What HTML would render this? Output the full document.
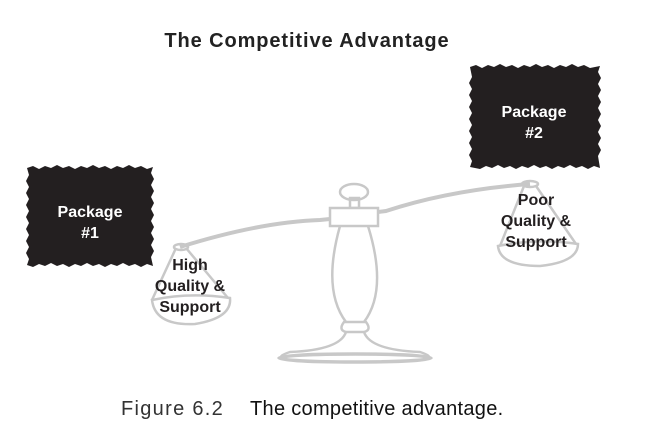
<!DOCTYPE html>
<html><head><meta charset="utf-8"><style>
html,body{margin:0;padding:0;background:#fff;width:647px;height:443px;overflow:hidden}
svg{display:block}
</style></head><body>
<svg width="647" height="443" viewBox="0 0 647 443" xmlns="http://www.w3.org/2000/svg" font-family="Liberation Sans, Arial, sans-serif">
<text x="307" y="47" text-anchor="middle" font-size="20" font-weight="bold" fill="#222" letter-spacing="0.9">The Competitive Advantage</text>
<path d="M27,168 L33,166 L39,169 L45,166 L51,168 L57,165 L63,168 L69,166 L75,169 L81,166 L87,168 L93,165 L99,168 L105,166 L111,169 L117,166 L123,168 L129,165 L135,168 L141,166 L147,169 L153,167
L151,173 L154,179 L151,185 L154,191 L151,197 L154,203 L151,209 L154,215 L151,221 L154,227 L151,233 L154,239 L151,245 L154,251 L151,257 L153,266
L147,264 L141,267 L135,264 L129,266 L123,263 L117,266 L111,264 L105,267 L99,264 L93,266 L87,263 L81,266 L75,264 L69,267 L63,264 L57,266 L51,263 L45,266 L39,264 L33,267 L27,265
L29,259 L26,253 L29,247 L26,241 L29,235 L26,229 L29,223 L26,217 L29,211 L26,205 L29,199 L26,193 L29,187 L26,181 L29,175 Z" fill="#231f20"/>
<path d="M470,67 L476,65 L482,68 L488,65 L494,67 L500,64 L506,67 L512,65 L518,68 L524,65 L530,67 L536,64 L542,67 L548,65 L554,68 L560,65 L566,67 L572,64 L578,67 L584,65 L590,68 L600,66
L598,72 L601,78 L598,84 L601,90 L598,96 L601,102 L598,108 L601,114 L598,120 L601,126 L598,132 L601,138 L598,144 L601,150 L598,156 L600,168
L594,166 L588,169 L582,166 L576,168 L570,165 L564,168 L558,166 L552,169 L546,166 L540,168 L534,165 L528,168 L522,166 L516,169 L510,166 L504,168 L498,165 L492,168 L486,166 L480,169 L470,167
L472,161 L469,155 L472,149 L469,143 L472,137 L469,131 L472,125 L469,119 L472,113 L469,107 L472,101 L469,95 L472,89 L469,83 L472,77 Z" fill="#231f20"/>
<text x="90" y="217" text-anchor="middle" font-size="16" font-weight="bold" fill="#fff">Package</text>
<text x="90" y="238" text-anchor="middle" font-size="16" font-weight="bold" fill="#fff">#1</text>
<text x="534" y="117" text-anchor="middle" font-size="16" font-weight="bold" fill="#fff">Package</text>
<text x="534" y="138" text-anchor="middle" font-size="16" font-weight="bold" fill="#fff">#2</text>
<g fill="none" stroke="#c8c8c8" stroke-width="2.5">
<path d="M180,247 Q260,222 320,220 L330,219" stroke-width="4"/>
<path d="M378,212 L386,211 Q450,190 530,184" stroke-width="4"/>
<ellipse cx="354" cy="192" rx="14" ry="8"/>
<rect x="350" y="198" width="9" height="10"/>
<rect x="330" y="208" width="48" height="18" fill="#fff"/>
<path d="M340,226 Q322,290 346,322 M368,226 Q388,290 364,322"/>
<path d="M344,322 Q338,330 346,332 L364,332 Q372,330 366,322 Z"/>
<path d="M346,332 Q340,350 290,352 Q278,356 282,358 M364,332 Q370,350 420,352 Q432,356 428,358"/>
<ellipse cx="355" cy="358" rx="76" ry="4" stroke-width="3.5"/>
<ellipse cx="181" cy="247" rx="7" ry="3"/>
<path d="M176,248 L152,300 M186,248 L228,298"/>
<path d="M152,300 Q190,292 230,298 Q232,318 195,324 Q155,326 152,300 Z"/>
<ellipse cx="530" cy="184" rx="8" ry="3"/>
<path d="M524,186 L500,246 M536,186 L576,244"/>
<path d="M498,246 Q538,238 578,244 Q578,262 540,266 Q500,266 498,246 Z"/>
</g>
<g font-size="16" font-weight="bold" fill="#231f20" text-anchor="middle">
<text x="190" y="270">High</text>
<text x="190" y="291">Quality &amp;</text>
<text x="190" y="312">Support</text>
<text x="536" y="205">Poor</text>
<text x="536" y="226">Quality &amp;</text>
<text x="536" y="247">Support</text>
</g>
<text x="121" y="415" font-size="20" fill="#333" letter-spacing="1.3">Figure 6.2</text>
<text x="250" y="415" font-size="20" fill="#111" letter-spacing="0.3">The competitive advantage.</text>
</svg>
</body></html>
